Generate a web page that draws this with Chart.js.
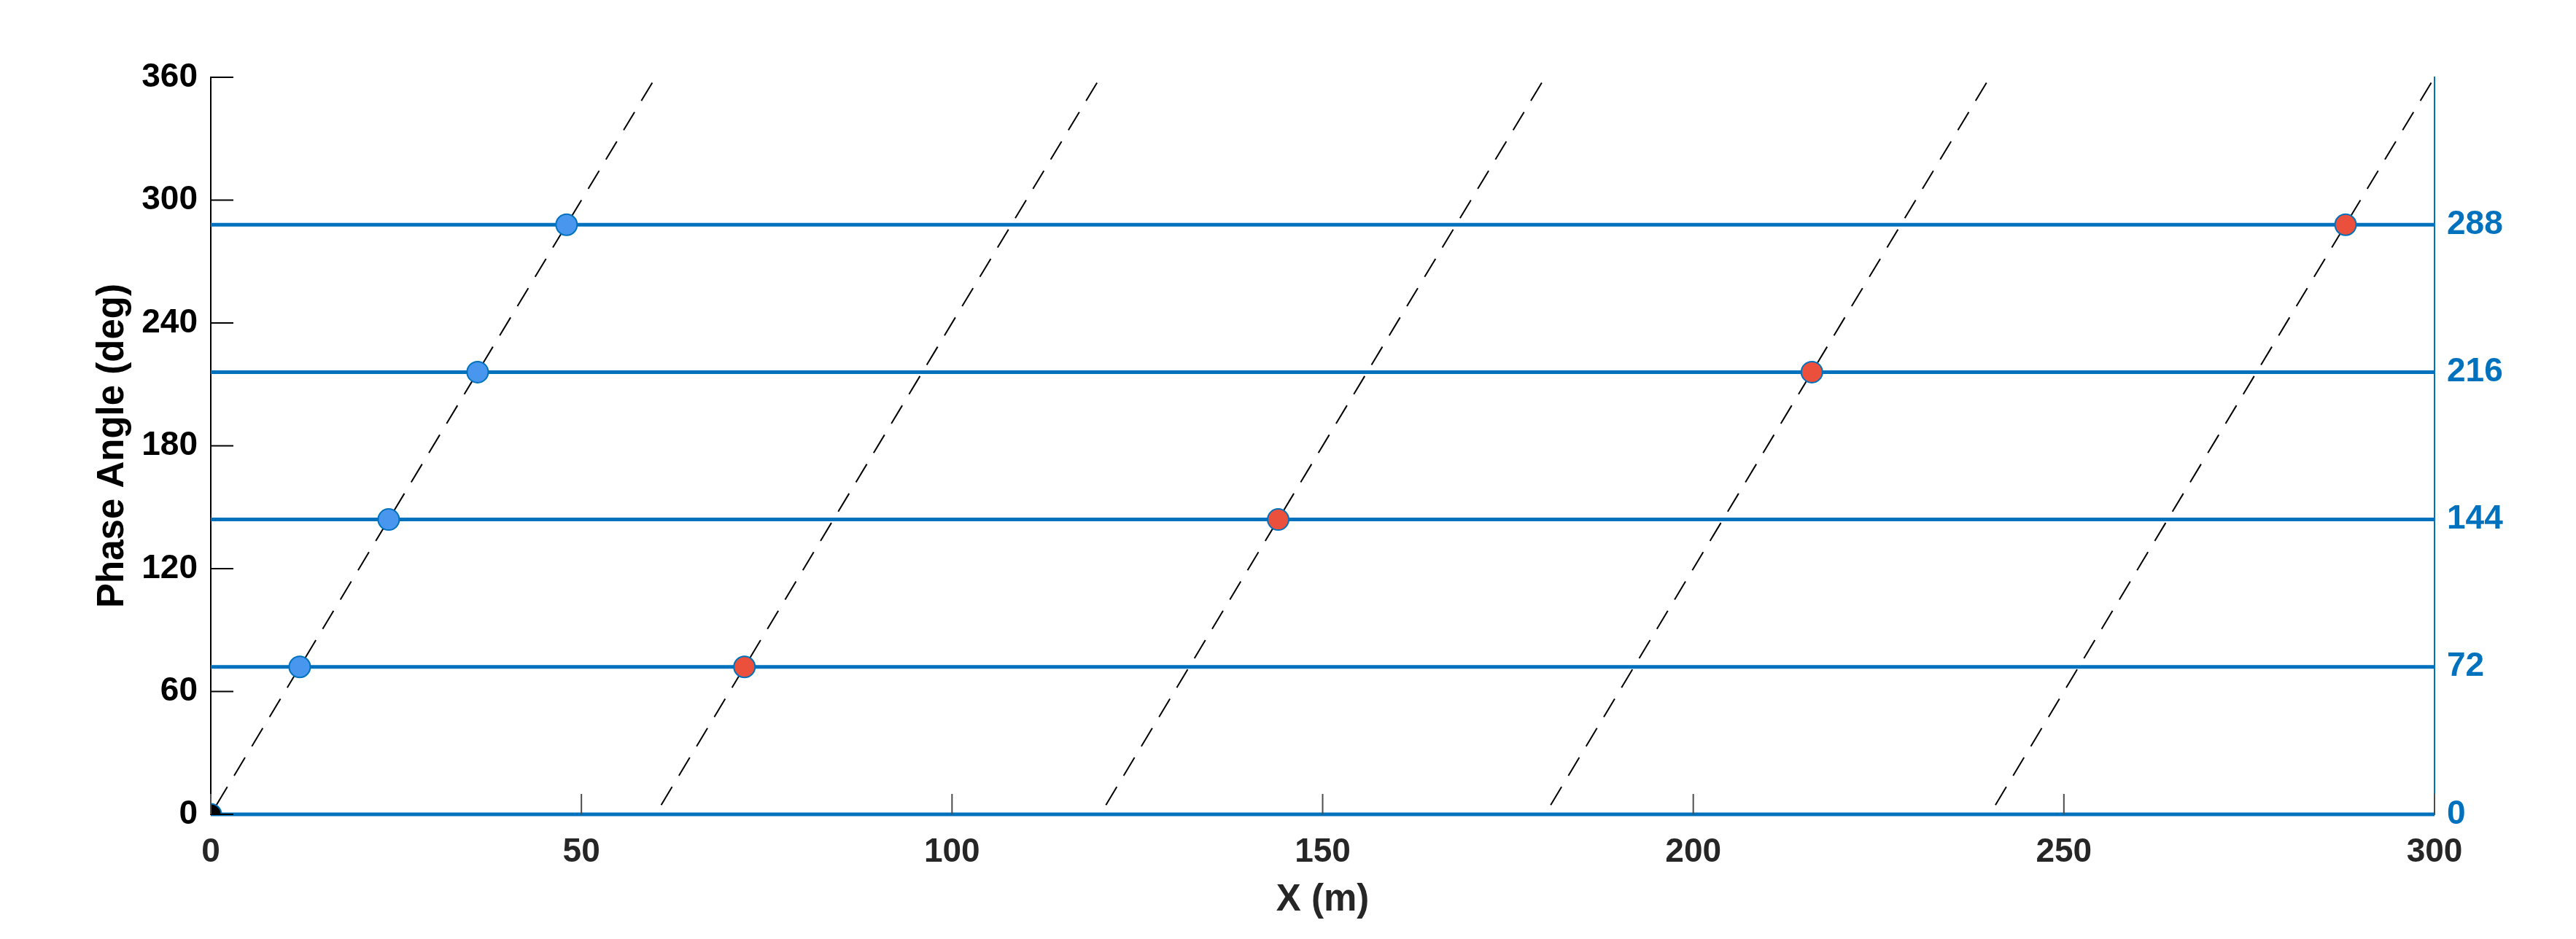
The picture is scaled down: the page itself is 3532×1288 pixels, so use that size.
<!DOCTYPE html>
<html>
<head>
<meta charset="utf-8">
<script src="https://cdn.jsdelivr.net/npm/chart.js@4/dist/chart.umd.min.js"></script>
<style>
  html, body { margin: 0; padding: 0; background: #ffffff; }
  #wrap { width: 3532px; height: 1288px; }
</style>
</head>
<body>
<div id="wrap"><canvas id="c" width="3532" height="1288"></canvas></div>
<script>
// ---- data ----
const xTicks = [0, 50, 100, 150, 200, 250, 300];
const yTicks = [0, 60, 120, 180, 240, 300, 360];
const rightTicks = [0, 72, 144, 216, 288];

const levels = [0, 72, 144, 216, 288];          // horizontal phase levels
const levelXStart = 0;
const levelXEnd = 300;

const waveXStart = [0, 60, 120, 180, 240];      // dashed phase lines start (phase 0)
const waveXEnd = [60, 120, 180, 240, 300];      // dashed phase lines end (phase 360)
const wavePhaseStart = 0;
const wavePhaseEnd = 360;

const blueX = [12, 24, 36, 48];
const blueY = [72, 144, 216, 288];
const redX = [72, 144, 216, 288];
const redY = [72, 144, 216, 288];
const originX = [0];
const originY = [0];

const xTitle = 'X (m)';
const yTitle = 'Phase Angle (deg)';

// ---- styles ----
const BLUE = '#0072BD';
const FONT = 'Liberation Sans, Arial, Helvetica, sans-serif';

const pts = (xs, ys) => xs.map((x, i) => ({ x: x, y: ys[i] }));

const datasets = [];

// markers (on top)
datasets.push({
  label: 'origin', data: pts(originX, originY), order: 0, clip: 0,
  pointRadius: 14.5, pointBorderWidth: 2, pointBackgroundColor: '#000000', pointBorderColor: BLUE, showLine: false
});
datasets.push({
  label: 'blue', data: pts(blueX, blueY), order: 0,
  pointRadius: 14.5, pointBorderWidth: 2, pointBackgroundColor: '#4896EE', pointBorderColor: BLUE, showLine: false
});
datasets.push({
  label: 'red', data: pts(redX, redY), order: 0,
  pointRadius: 14.5, pointBorderWidth: 2, pointBackgroundColor: '#EA503B', pointBorderColor: BLUE, showLine: false
});

// horizontal lines
levels.forEach((L, i) => {
  datasets.push({
    label: 'level' + i,
    data: [{ x: levelXStart, y: L }, { x: levelXEnd, y: L }],
    order: 1, clip: false, showLine: true, pointRadius: 0,
    borderColor: BLUE, borderWidth: 5
  });
});

// dashed lines
waveXStart.forEach((xs, i) => {
  datasets.push({
    label: 'wave' + i,
    data: [{ x: xs, y: wavePhaseStart }, { x: waveXEnd[i], y: wavePhaseEnd }],
    order: 2, clip: false, showLine: true, pointRadius: 0,
    borderColor: '#000000', borderWidth: 2, borderDash: [29, 18], borderDashOffset: 32
  });
});

const inwardTicks = {
  id: 'inwardTicks',
  afterDraw(chart) {
    const ctx = chart.ctx;
    const a = chart.chartArea;
    const xs = chart.scales.x, ys = chart.scales.y, y2 = chart.scales.y2;
    ctx.save();
    ctx.lineWidth = 2;
    ctx.strokeStyle = '#000000';
    yTicks.forEach(v => {
      const p = ys.getPixelForValue(v);
      ctx.beginPath(); ctx.moveTo(a.left, p); ctx.lineTo(a.left + 31, p); ctx.stroke();
    });
    ctx.strokeStyle = '#4d4d4d';
    xTicks.forEach(v => {
      const p = xs.getPixelForValue(v);
      ctx.beginPath(); ctx.moveTo(p, a.bottom); ctx.lineTo(p, a.bottom - 28); ctx.stroke();
    });
    ctx.strokeStyle = BLUE;
    rightTicks.forEach(v => {
      const p = y2.getPixelForValue(v);
      ctx.beginPath(); ctx.moveTo(a.right, p); ctx.lineTo(a.right - 31, p); ctx.stroke();
    });
    ctx.restore();
  }
};

new Chart(document.getElementById('c'), {
  type: 'scatter',
  data: { datasets: datasets },
  plugins: [inwardTicks],
  options: {
    responsive: false,
    devicePixelRatio: 1,
    animation: false,
    events: [],
    layout: { padding: { top: 106, left: 0, right: 0, bottom: 0 } },
    plugins: { legend: { display: false }, tooltip: { enabled: false } },
    scales: {
      x: {
        type: 'linear', position: 'bottom', min: 0, max: 300,
        afterBuildTicks: s => { s.ticks = xTicks.map(v => ({ value: v })); },
        afterFit: s => { s.height = 171; },
        grid: { display: false, drawTicks: false },
        border: { display: true, color: '#262626', width: 2 },
        ticks: { padding: 25, color: '#262626', font: { family: FONT, size: 46, weight: 'bold' }, maxRotation: 0, autoSkip: false },
        title: { display: true, text: xTitle, color: '#262626', font: { family: FONT, size: 51, weight: 'bold' }, padding: { top: 0, bottom: 22 } }
      },
      y: {
        type: 'linear', position: 'left', min: 0, max: 360,
        afterBuildTicks: s => { s.ticks = yTicks.map(v => ({ value: v })); },
        afterFit: s => { s.width = 289; },
        grid: { display: false, drawTicks: false },
        border: { display: true, color: '#000000', width: 2 },
        ticks: { padding: 18, color: '#000000', font: { family: FONT, size: 46, weight: 'bold' }, autoSkip: false },
        title: { display: true, text: yTitle, color: '#000000', font: { family: FONT, size: 51, weight: 'bold' }, padding: { top: 124, bottom: 0 } }
      },
      y2: {
        type: 'linear', position: 'right', min: 0, max: 360,
        afterBuildTicks: s => { s.ticks = rightTicks.map(v => ({ value: v })); },
        afterFit: s => { s.width = 194; },
        grid: { display: false, drawTicks: false },
        border: { display: true, color: BLUE, width: 2 },
        ticks: { padding: 17, color: BLUE, font: { family: FONT, size: 46, weight: 'bold' }, autoSkip: false }
      }
    }
  }
});
</script>
</body>
</html>
